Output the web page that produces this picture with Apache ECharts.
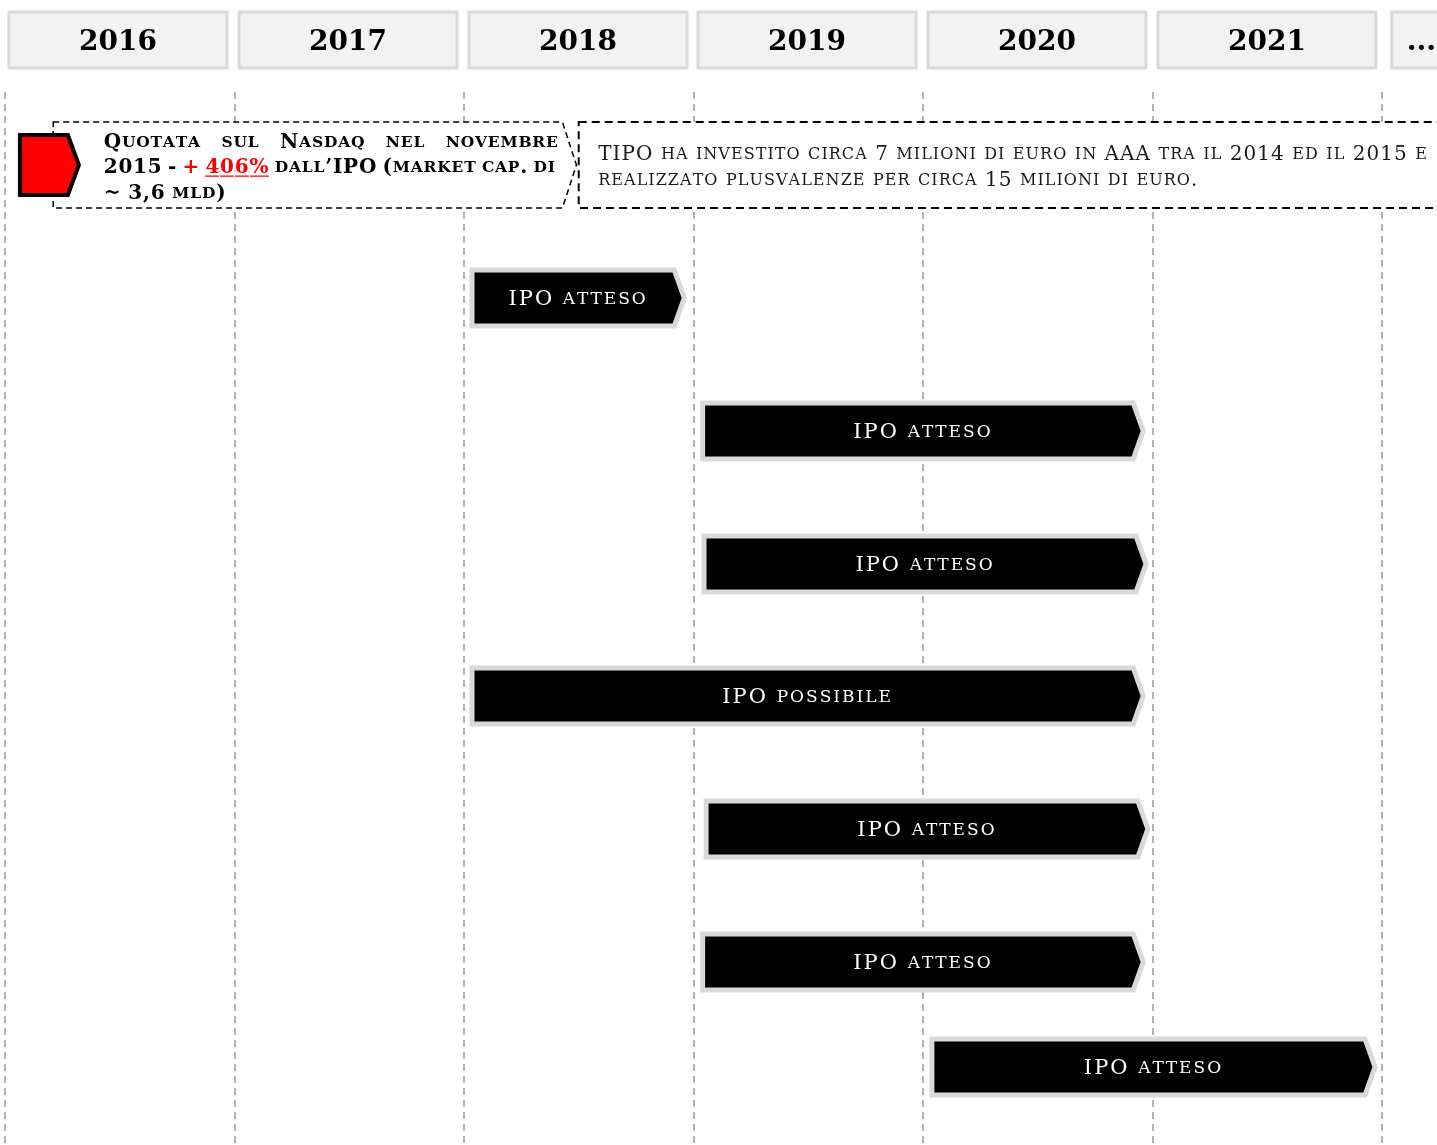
<!DOCTYPE html>
<html>
<head>
<meta charset="utf-8">
<script src="https://cdn.jsdelivr.net/npm/echarts@6/dist/echarts.min.js"></script>
<style>
  html, body { margin: 0; padding: 0; background: #fff; }
  #chart { width: 1437px; height: 1145px; }
</style>
</head>
<body>
<div id="chart"></div>
<script>
// header columns
var years = ['2016', '2017', '2018', '2019', '2020', '2021', '...'];
var headFrom = [2016.017, 2017.02, 2018.022, 2019.02, 2020.022, 2021.024, 2022.043];
var headTo = [2016.967, 2017.97, 2018.972, 2019.97, 2020.972, 2021.974, 2022.30];

// bars (start / end in years, row = position on the vertical axis)
var barLabels = ['IPO atteso', 'IPO atteso', 'IPO atteso', 'IPO possibile', 'IPO atteso', 'IPO atteso', 'IPO atteso'];
var barStart = [2018.035, 2019.04, 2019.046, 2018.035, 2019.055, 2019.04, 2020.039];
var barEnd = [2018.96, 2020.96, 2020.972, 2020.96, 2020.98, 2020.96, 2021.97];
var barRow = [206, 339, 472, 604, 737, 870, 975];

// notes on the first row
var noteRow = 73;
var markStart = 2016.065, markEnd = 2016.322;
var noteStart = [2016.21, 2018.50];
var noteEnd = [2018.49, 2022.27];
var noteTextStart = [2016.43, 2018.585];
var note1TextEnd = 2018.40;
var note1Lines = [
  ['Quotata', 'sul', 'Nasdaq', 'nel', 'novembre'],
  ['2015', '-', '+', '406%', 'dall\u2019IPO', '(market', 'cap.', 'di'],
  ['~', '3,6', 'mld)']
];
var note1Red = ['+', '406%'];
var note1Underline = ['406%'];
var note2Lines = [
  'TIPO ha investito circa 7 milioni di euro in AAA tra il 2014 ed il 2015 e',
  'realizzato plusvalenze per circa 15 milioni di euro.'
];

var FONT = '"DejaVu Serif", serif';

// underline image for the red percentage
var ulCanvas = document.createElement('canvas');
ulCanvas.width = 4; ulCanvas.height = 40;
var ulCtx = ulCanvas.getContext('2d');
ulCtx.fillStyle = '#ff0000';
ulCtx.fillRect(0, 35, 4, 2.5);

var rich = {
  nb: { fontFamily: FONT, fontWeight: 'bold', fontSize: 20, fill: '#000', lineHeight: 26 },
  ns: { fontFamily: FONT, fontWeight: 'bold', fontSize: 15.5, fill: '#000', lineHeight: 26 },
  rb: { fontFamily: FONT, fontWeight: 'bold', fontSize: 20, fill: '#ff0000', lineHeight: 26 },
  rs: { fontFamily: FONT, fontWeight: 'bold', fontSize: 15.5, fill: '#ff0000', lineHeight: 26 },
  ub: { fontFamily: FONT, fontWeight: 'bold', fontSize: 20, fill: '#ff0000', lineHeight: 26, backgroundColor: { image: ulCanvas } },
  us: { fontFamily: FONT, fontWeight: 'bold', fontSize: 15.5, fill: '#ff0000', lineHeight: 26, backgroundColor: { image: ulCanvas } },
  tb: { fontFamily: FONT, fontSize: 20, fill: '#1a1a1a', lineHeight: 26 },
  ts: { fontFamily: FONT, fontSize: 16, fill: '#1a1a1a', lineHeight: 26 },
  lb: { fontFamily: FONT, fontSize: 21, fill: '#fff' },
  ls: { fontFamily: FONT, fontSize: 17, fill: '#fff' },
  // letter spacing
  spL: { width: 2, fontSize: 8 },
  spN: { width: 0.8, fontSize: 8 },
  spU: { width: 0.8, fontSize: 8, lineHeight: 26, backgroundColor: { image: ulCanvas } },
  spT: { width: 1.05, fontSize: 8 }
};

// small caps: lower case letters become small capitals
function runs(str, big, small) {
  var out = [], cur = null, buf = '';
  for (var i = 0; i < str.length; i++) {
    var ch = str[i];
    var low = ch !== ch.toUpperCase();
    var k = low ? small : big;
    if (k !== cur && buf) { out.push([buf, cur]); buf = ''; }
    cur = k;
    buf += low ? ch.toUpperCase() : ch;
  }
  if (buf) out.push([buf, cur]);
  return out;
}
function tokens(list, sp) {
  return list.map(function (r, ri) {
    var underlined = r[1] === 'ub' || r[1] === 'us';
    return r[0].split('').map(function (ch, i) {
      var last = ri === list.length - 1 && i === r[0].length - 1;
      var s = underlined && !last ? 'spU' : sp;
      return '{' + r[1] + '|' + ch + '}' + (s ? '{' + s + '| }' : '');
    }).join('');
  }).join('');
}
function sc(str, big, small, sp) {
  return tokens(runs(str, big, small), sp);
}

var mctx = document.createElement('canvas').getContext('2d');
function measure(text, st) {
  mctx.font = (st.fontWeight || 'normal') + ' ' + st.fontSize + 'px ' + st.fontFamily;
  return mctx.measureText(text).width;
}

function note1Word(w) {
  if (note1Underline.indexOf(w) >= 0) return runs(w, 'ub', 'us');
  if (note1Red.indexOf(w) >= 0) return runs(w, 'rb', 'rs');
  return runs(w, 'nb', 'ns');
}

// justified line: gaps between words stretched to fill the width
function buildLine(words, targetW, key) {
  var parts = words.map(note1Word);
  var total = 0;
  parts.forEach(function (p) {
    p.forEach(function (r) { total += measure(r[0], rich[r[1]]) + r[0].length * rich.spN.width; });
  });
  var gap = targetW ? (targetW - total) / (words.length - 1) : measure(' ', rich.nb);
  rich[key] = { width: gap, fontSize: 8 };
  return parts.map(function (p) { return tokens(p, 'spN'); }).join('{' + key + '| }');
}

var chart = echarts.init(document.getElementById('chart'));

var option = {
  backgroundColor: '#fff',
  animation: false,
  grid: [
    { left: 5, right: 0, top: 12, height: 56 },
    { left: 5, right: 0, top: 92, bottom: 0 }
  ],
  xAxis: [
    { gridIndex: 0, type: 'value', min: 2016, max: 2022.24, show: false },
    {
      gridIndex: 1, type: 'value', min: 2016, max: 2022.24, interval: 1,
      axisLine: { show: false }, axisTick: { show: false }, axisLabel: { show: false },
      splitLine: { show: true, showMaxLine: false, lineStyle: { color: '#999', width: 1.5, type: [7, 5] } }
    }
  ],
  yAxis: [
    { gridIndex: 0, type: 'value', min: 0, max: 1, show: false },
    { gridIndex: 1, type: 'value', min: 0, max: 1053, inverse: true, show: false }
  ],
  series: [
    {
      // year header boxes
      type: 'custom',
      xAxisIndex: 0, yAxisIndex: 0,
      clip: false,
      data: headFrom.map(function (s, i) { return [s, headTo[i]]; }),
      renderItem: function (params, api) {
        var a = api.coord([api.value(0), 1]);
        var b = api.coord([api.value(1), 0]);
        return {
          type: 'rect',
          shape: { x: a[0], y: a[1], width: b[0] - a[0], height: b[1] - a[1] },
          style: { fill: '#f2f2f2', stroke: '#d9d9d9', lineWidth: 3 },
          textContent: {
            style: { text: years[params.dataIndex], font: 'bold 28px ' + FONT, fill: '#000' }
          },
          textConfig: { position: 'inside', offset: [0, 3] }
        };
      }
    },
    {
      // notes on the first row
      type: 'custom',
      xAxisIndex: 1, yAxisIndex: 1,
      clip: false,
      data: [[noteStart[0], noteRow]],
      renderItem: function (params, api) {
        var h = 43;
        var c = api.coord([noteStart[0], noteRow])[1];
        var x1a = api.coord([noteStart[0], noteRow])[0];
        var x1b = api.coord([noteEnd[0], noteRow])[0];
        var x2a = api.coord([noteStart[1], noteRow])[0];
        var x2b = api.coord([noteEnd[1], noteRow])[0];
        var ma = api.coord([markStart, noteRow])[0];
        var mb = api.coord([markEnd, noteRow])[0];
        var t1a = api.coord([noteTextStart[0], noteRow])[0];
        var t1b = api.coord([note1TextEnd, noteRow])[0];
        var t2a = api.coord([noteTextStart[1], noteRow])[0];
        var children = [
          {
            type: 'rect',
            shape: { x: x2a, y: c - h, width: x2b - x2a, height: 2 * h },
            style: { fill: '#fff', stroke: '#000', lineWidth: 2, lineDash: [8, 5] }
          },
          {
            type: 'polygon',
            shape: { points: [[x1a, c - h], [x1b - 14, c - h], [x1b, c], [x1b - 14, c + h], [x1a, c + h]] },
            style: { fill: '#fff', stroke: '#000', lineWidth: 1.5, lineDash: [6, 4] }
          },
          {
            type: 'polygon',
            shape: { points: [[ma, c - 30], [mb - 11, c - 30], [mb, c], [mb - 11, c + 30], [ma, c + 30]] },
            style: { fill: '#ff0000', stroke: '#000', lineWidth: 4, lineJoin: 'miter' }
          }
        ];
        note1Lines.forEach(function (words, i) {
          var target = i < 2 ? t1b - t1a : 0;
          children.push({
            type: 'text',
            x: t1a, y: c + 3 + (i - 1) * 25.5,
            style: { text: buildLine(words, target, 'g' + i), rich: rich, align: 'left', verticalAlign: 'middle' }
          });
        });
        note2Lines.forEach(function (line, i) {
          children.push({
            type: 'text',
            x: t2a, y: c + 3 + (i - 0.5) * 26,
            style: { text: sc(line, 'tb', 'ts', 'spT'), rich: rich, align: 'left', verticalAlign: 'middle' }
          });
        });
        return { type: 'group', children: children };
      }
    },
    {
      // IPO bars
      type: 'custom',
      xAxisIndex: 1, yAxisIndex: 1,
      data: barStart.map(function (s, i) { return [s, barEnd[i], barRow[i]]; }),
      renderItem: function (params, api) {
        var s = api.coord([api.value(0), api.value(2)]);
        var e = api.coord([api.value(1), api.value(2)]);
        var h = 28, tip = 10;
        return {
          type: 'polygon',
          shape: {
            points: [[s[0], s[1] - h], [e[0] - tip, s[1] - h], [e[0], s[1]], [e[0] - tip, s[1] + h], [s[0], s[1] + h]]
          },
          style: { fill: '#000', stroke: '#d9d9d9', lineWidth: 5, lineJoin: 'miter' },
          textContent: {
            style: {
              text: sc(barLabels[params.dataIndex], 'lb', 'ls', 'spL'), rich: rich,
              fill: '#fff', stroke: 'none', align: 'center', verticalAlign: 'middle'
            }
          },
          textConfig: { position: 'inside', offset: [0, 2], insideFill: '#fff', insideStroke: 'none' }
        };
      }
    }
  ]
};

chart.setOption(option);
</script>
</body>
</html>
